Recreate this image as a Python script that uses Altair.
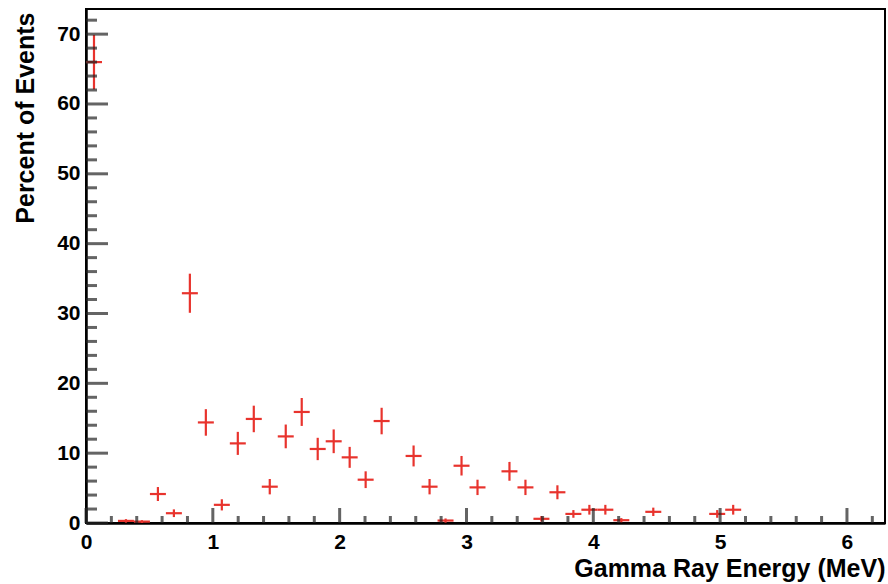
import altair as alt
import pandas as pd

# Bin centres (MeV), percent of events and vertical error estimates
energy = [0.063, 0.315, 0.441, 0.567, 0.693, 0.819, 0.945, 1.071, 1.197, 1.323,
          1.449, 1.575, 1.701, 1.827, 1.953, 2.079, 2.205, 2.331, 2.583, 2.709,
          2.835, 2.961, 3.087, 3.339, 3.465, 3.591, 3.717, 3.843, 3.969, 4.095,
          4.221, 4.473, 4.977, 5.103]
percent = [66.0, 0.3, 0.2, 4.15, 1.4, 32.9, 14.4, 2.6, 11.4, 14.9,
           5.2, 12.4, 15.9, 10.6, 11.7, 9.4, 6.2, 14.6, 9.6, 5.2,
           0.35, 8.2, 5.1, 7.4, 5.1, 0.6, 4.4, 1.3, 1.9, 1.9,
           0.4, 1.6, 1.3, 1.9]
err = [3.9, 0.25, 0.2, 1.0, 0.55, 2.8, 1.9, 0.8, 1.65, 1.9,
       1.1, 1.7, 2.0, 1.6, 1.7, 1.5, 1.2, 1.9, 1.5, 1.1,
       0.3, 1.4, 1.1, 1.35, 1.1, 0.4, 1.0, 0.55, 0.7, 0.7,
       0.3, 0.6, 0.55, 0.7]
BIN_HALF = 0.063

x_labels = [0, 1, 2, 3, 4, 5, 6]
y_labels = [0, 10, 20, 30, 40, 50, 60, 70]
x_minor = [round(i * 0.2, 1) for i in range(32) if i % 5 != 0]
y_minor = [v for v in range(0, 74, 2) if v % 10 != 0]

df = pd.DataFrame({"energy": energy, "percent": percent, "err": err})
df["lo"] = (df["percent"] - df["err"]).clip(lower=0)
df["hi"] = df["percent"] + df["err"]
df["xlo"] = df["energy"] - BIN_HALF
df["xhi"] = df["energy"] + BIN_HALF

FONT = "Liberation Sans"
RED = "#e8332d"
INK = "#222222"
W, H = 799, 514

xs = alt.Scale(domain=[0, 6.3], nice=False, zero=False)
ys = alt.Scale(domain=[0, 73.6], nice=False)

x_main = alt.Axis(values=x_labels, format="d", ticks=False, grid=False,
                  domain=True, domainColor="black", domainWidth=2.5,
                  labelFont=FONT, labelFontSize=21, labelFontWeight="bold",
                  labelColor="black", labelPadding=8, labelFlush=False,
                  title="Gamma Ray Energy (MeV)", titleFont=FONT, titleFontSize=25,
                  titleFontWeight="bold", titleColor="black", titleX=W, titleY=53,
                  titleAlign="right", titleBaseline="alphabetic", titleAngle=0)
y_main = alt.Axis(values=y_labels, format="d", ticks=False, grid=False,
                  domain=True, domainColor="black", domainWidth=2.5,
                  labelFont=FONT, labelFontSize=21, labelFontWeight="bold",
                  labelColor="black", labelPadding=6, labelFlush=False,
                  title="Percent of Events", titleFont=FONT, titleFontSize=25,
                  titleFontWeight="bold", titleColor="black", titleAngle=270,
                  titleX=-53, titleY=3, titleAlign="right", titleBaseline="alphabetic")

vbars = alt.Chart(df).mark_rule(color=RED, strokeWidth=2.2, clip=True).encode(
    x=alt.X("energy:Q", scale=xs, axis=x_main),
    y=alt.Y("lo:Q", scale=ys, axis=y_main),
    y2="hi:Q",
)
hbars = alt.Chart(df).mark_rule(color=RED, strokeWidth=2.2, clip=True).encode(
    x=alt.X("xlo:Q", scale=xs),
    x2="xhi:Q",
    y=alt.Y("percent:Q", scale=ys),
)

# Inward-pointing ROOT style ticks
y_major_t = alt.Chart(pd.DataFrame({"v": y_labels})).mark_tick(
    color=INK, orient="horizontal", size=22, thickness=3).encode(
    y=alt.Y("v:Q", scale=ys), x=alt.value(11))
y_minor_t = alt.Chart(pd.DataFrame({"v": y_minor})).mark_tick(
    color=INK, orient="horizontal", size=11, thickness=3).encode(
    y=alt.Y("v:Q", scale=ys), x=alt.value(5.5))
x_major_t = alt.Chart(pd.DataFrame({"v": x_labels})).mark_tick(
    color=INK, orient="vertical", size=15, thickness=3).encode(
    x=alt.X("v:Q", scale=xs), y=alt.value(H - 7.5))
x_minor_t = alt.Chart(pd.DataFrame({"v": x_minor})).mark_tick(
    color=INK, orient="vertical", size=7, thickness=3).encode(
    x=alt.X("v:Q", scale=xs), y=alt.value(H - 3.5))

chart = alt.layer(
    vbars, hbars, y_major_t, y_minor_t, x_major_t, x_minor_t
).properties(
    width=W, height=H,
    autosize=alt.AutoSizeParams(type="none"),
    padding={"left": 86, "top": 9, "right": 3, "bottom": 61},
    background="white",
).configure_view(stroke="black", strokeWidth=2)

chart.save("out.html", embed_options={"renderer": "svg", "actions": False})
